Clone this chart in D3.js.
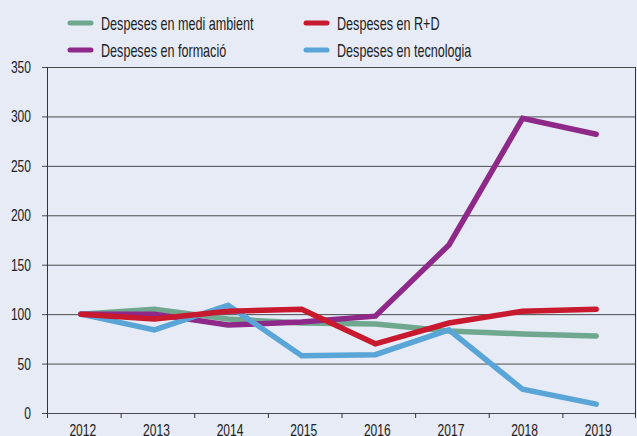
<!DOCTYPE html>
<html>
<head>
<meta charset="utf-8">
<script src="https://cdn.jsdelivr.net/npm/d3@7"></script>
<style>
  html, body { margin: 0; padding: 0; background: #e6ebf6; }
  svg { display: block; }
  text { font-family: "Liberation Sans", Arial, sans-serif; fill: #222; }
</style>
</head>
<body>
<svg id="chart" width="637" height="436"></svg>
<script>
// Index of spending, 2012 = 100
const years = ["2012", "2013", "2014", "2015", "2016", "2017", "2018", "2019"];
const mediAmbient = [100, 105, 95, 91, 90, 83, 80, 78];
const formacio    = [100, 100, 89, 92, 98, 170, 298, 282];
const tecnologia  = [100, 84, 109, 58, 59, 84, 24, 9];
const recercaRD   = [100, 95, 103, 105, 70, 91, 103, 105];
const yTicks = [0, 50, 100, 150, 200, 250, 300, 350];

const seriesNames = ["Despeses en medi ambient", "Despeses en formació", "Despeses en tecnologia", "Despeses en R+D"];
const seriesColors = ["#6fa88f", "#8e2889", "#5aa5d8", "#c8192f"];
const seriesValues = [mediAmbient, formacio, tecnologia, recercaRD];

const svg = d3.select("#chart");
const margin = { left: 47, right: 1, top: 67, bottom: 23 };
const W = 637, H = 436;
const narrow = 0.73; // horizontal squeeze for a condensed look

const x = d3.scaleBand().domain(years).range([margin.left, W - margin.right]);
const y = d3.scaleLinear().domain([0, 350]).range([H - margin.bottom, margin.top]);

// Horizontal grid lines
svg.append("g")
  .selectAll("line")
  .data(yTicks)
  .join("line")
  .attr("x1", margin.left - 5)
  .attr("x2", W - margin.right)
  .attr("y1", d => y(d) + 0.5)
  .attr("y2", d => y(d) + 0.5)
  .attr("stroke", "#4a4a4a")
  .attr("stroke-width", 1);

// Y axis labels
svg.append("g")
  .selectAll("text")
  .data(yTicks)
  .join("text")
  .attr("transform", d => `translate(31,${y(d) + 6}) scale(${narrow},1)`)
  .attr("text-anchor", "end")
  .attr("font-size", 16.5)
  .text(d => d);

// Vertical axis lines
svg.append("line")
  .attr("x1", margin.left + 0.5).attr("x2", margin.left + 0.5)
  .attr("y1", y(350)).attr("y2", y(0) + 5)
  .attr("stroke", "#333");
svg.append("line")
  .attr("x1", W - margin.right - 0.5).attr("x2", W - margin.right - 0.5)
  .attr("y1", y(350)).attr("y2", y(0) + 5)
  .attr("stroke", "#333");

// X tick marks at band boundaries
svg.append("g")
  .selectAll("line")
  .data(years.slice(1))
  .join("line")
  .attr("x1", d => x(d) + 0.5)
  .attr("x2", d => x(d) + 0.5)
  .attr("y1", y(0))
  .attr("y2", y(0) + 5)
  .attr("stroke", "#333");

// X labels
svg.append("g")
  .selectAll("text")
  .data(years)
  .join("text")
  .attr("transform", d => `translate(${x(d) + x.bandwidth() / 2 - 1},436) scale(${narrow},1)`)
  .attr("text-anchor", "middle")
  .attr("font-size", 16.5)
  .text(d => d);

// Series lines
const line = d3.line()
  .x((d, i) => x(years[i]) + x.bandwidth() / 2 - 3)
  .y(d => y(d));

svg.append("g")
  .selectAll("path")
  .data(seriesValues)
  .join("path")
  .attr("d", d => line(d))
  .attr("fill", "none")
  .attr("stroke", (d, i) => seriesColors[i])
  .attr("stroke-width", 5.5)
  .attr("stroke-linejoin", "miter")
  .attr("stroke-linecap", "round");

// Legend: two columns, two rows
const legendPos = [[68, 23], [68, 50], [304, 50], [304, 23]];
const lg = svg.append("g")
  .selectAll("g")
  .data(seriesNames)
  .join("g")
  .attr("transform", (d, i) => `translate(${legendPos[i][0]},${legendPos[i][1]})`);
lg.append("line")
  .attr("x1", 2).attr("x2", 23)
  .attr("stroke", (d, i) => seriesColors[i])
  .attr("stroke-width", 5)
  .attr("stroke-linecap", "round");
lg.append("text")
  .attr("transform", `translate(33,7) scale(0.70,1)`)
  .attr("font-size", 18)
  .text(d => d);
</script>
</body>
</html>
